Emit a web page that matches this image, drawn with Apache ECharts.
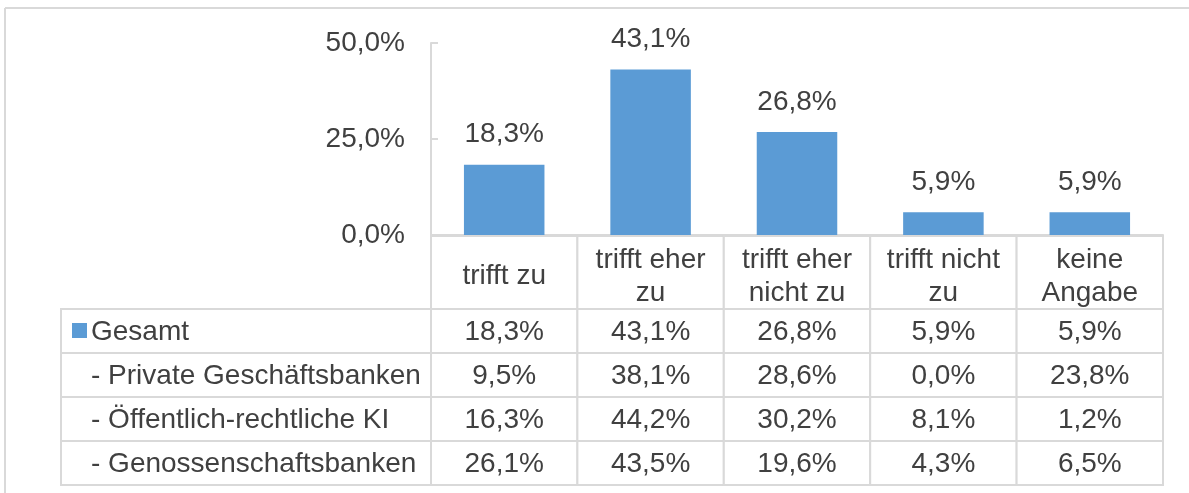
<!DOCTYPE html>
<html>
<head>
    <meta charset="utf-8">
    <title>Bewertung</title>
    <script type="text/javascript" src="https://cdn.jsdelivr.net/npm/echarts@6/dist/echarts.min.js"></script>
    <style>
        html, body { margin: 0; background: #fff; overflow: hidden; }
    </style>
</head>
<body>
<div id="chartmain" style="width:1189px; height:493px;"></div>

<script type="text/javascript">
    // Daten
    var categories = ['trifft zu', 'trifft eher zu', 'trifft eher nicht zu', 'trifft nicht zu', 'keine Angabe'];
    var headerLabels = ['trifft zu', 'trifft eher\nzu', 'trifft eher\nnicht zu', 'trifft nicht\nzu', 'keine\nAngabe'];
    var rowNames = ['Gesamt', '- Private Geschäftsbanken', '- Öffentlich-rechtliche KI', '- Genossenschaftsbanken'];
    var gesamt = [18.3, 43.1, 26.8, 5.9, 5.9];
    var privat = [9.5, 38.1, 28.6, 0.0, 23.8];
    var oeffentlich = [16.3, 44.2, 30.2, 8.1, 1.2];
    var genossen = [26.1, 43.5, 19.6, 4.3, 6.5];
    var yTicks = [0, 25, 50];

    var tableRows = [gesamt, privat, oeffentlich, genossen];
    var fontFam = '"Liberation Sans", Arial, sans-serif';
    var textCol = '#404040';
    var lineCol = '#d9d9d9';
    var barCol = '#5b9bd5';
    var fs = 28;

    function pct(v) {
        return v.toFixed(1).replace('.', ',') + '%';
    }

    // Zellen der Tabelle: [spalte, zeile, wert]
    var cellData = [];
    tableRows.forEach(function (row, r) {
        row.forEach(function (v, c) {
            cellData.push([c, r, v]);
        });
    });
    var rowLabelData = rowNames.map(function (n, r) { return [0, r]; });
    var headerData = headerLabels.map(function (h, c) { return [c, 0]; });

    var labelColW = 370;

    var option = {
        animation: false,
        graphic: [
            { type: 'line', shape: { x1: 5, y1: 8, x2: 1189, y2: 8 },
              style: { stroke: lineCol, lineWidth: 2 }, silent: true },
            { type: 'line', shape: { x1: 5, y1: 8, x2: 5, y2: 493 },
              style: { stroke: lineCol, lineWidth: 2 }, silent: true }
        ],
        grid: [
            { left: 431, top: 43, width: 732, height: 192 },
            { left: 431, top: 236, width: 732, height: 73 },
            { left: 431, top: 309, width: 732, height: 176 }
        ],
        xAxis: [
            {
                gridIndex: 0, type: 'category', data: categories,
                axisLine: { show: true, lineStyle: { color: lineCol, width: 2 } },
                axisTick: { show: false }, axisLabel: { show: false }
            },
            { gridIndex: 1, type: 'category', data: categories, show: false },
            { gridIndex: 2, type: 'category', data: categories, show: false }
        ],
        yAxis: [
            {
                gridIndex: 0, type: 'value', min: yTicks[0], max: yTicks[yTicks.length - 1], interval: 25,
                axisLine: { show: true, lineStyle: { color: lineCol, width: 2 } },
                axisTick: { show: true, inside: true, length: 7, lineStyle: { color: lineCol, width: 2 } },
                splitLine: { show: false },
                axisLabel: {
                    margin: 26, fontSize: fs, fontFamily: fontFam, color: textCol,
                    padding: [6, 0, 0, 0],
                    formatter: function (v) { return pct(v); }
                }
            },
            { gridIndex: 1, type: 'category', data: ['h'], show: false },
            { gridIndex: 2, type: 'category', data: rowNames, inverse: true, show: false }
        ],
        series: [
            {
                name: 'Gesamt',
                type: 'bar',
                xAxisIndex: 0, yAxisIndex: 0,
                data: gesamt,
                barWidth: '55%',
                itemStyle: { color: barCol },
                label: {
                    show: true, position: 'top', distance: 16,
                    fontSize: fs, fontFamily: fontFam, color: textCol,
                    formatter: function (p) { return pct(p.value); }
                }
            },
            {
                // Kopfzeile
                type: 'custom', xAxisIndex: 1, yAxisIndex: 1,
                data: headerData,
                renderItem: function (params, api) {
                    var c = api.value(0);
                    var p = api.coord([c, 0]);
                    var w = api.size([1, 0])[0];
                    var h = params.coordSys.height;
                    return {
                        type: 'group', children: [
                            { type: 'rect', shape: { x: p[0] - w / 2, y: params.coordSys.y, width: w, height: h },
                              style: { fill: '#fff', stroke: lineCol, lineWidth: 2 } },
                            { type: 'text', style: { text: headerLabels[c], x: p[0], y: params.coordSys.y + h / 2 + 4,
                              align: 'center', verticalAlign: 'middle', lineHeight: 33,
                              fill: textCol, fontSize: fs, fontFamily: fontFam } }
                        ]
                    };
                }
            },
            {
                // Werte
                type: 'custom', xAxisIndex: 2, yAxisIndex: 2,
                data: cellData,
                renderItem: function (params, api) {
                    var p = api.coord([api.value(0), api.value(1)]);
                    var w = api.size([1, 0])[0];
                    var h = Math.abs(api.size([0, 1])[1]);
                    return {
                        type: 'group', children: [
                            { type: 'rect', shape: { x: p[0] - w / 2, y: p[1] - h / 2, width: w, height: h },
                              style: { fill: '#fff', stroke: lineCol, lineWidth: 2 } },
                            { type: 'text', style: { text: pct(api.value(2)), x: p[0], y: p[1] + 1,
                              align: 'center', verticalAlign: 'middle',
                              fill: textCol, fontSize: fs, fontFamily: fontFam } }
                        ]
                    };
                }
            },
            {
                // Zeilenbeschriftung
                type: 'custom', xAxisIndex: 2, yAxisIndex: 2,
                data: rowLabelData,
                renderItem: function (params, api) {
                    var r = api.value(1);
                    var p = api.coord([0, r]);
                    var h = Math.abs(api.size([0, 1])[1]);
                    var x0 = params.coordSys.x - labelColW;
                    var kids = [
                        { type: 'rect', shape: { x: x0, y: p[1] - h / 2, width: labelColW, height: h },
                          style: { fill: '#fff', stroke: lineCol, lineWidth: 2 } },
                        { type: 'text', style: { text: rowNames[r], x: x0 + 30, y: p[1] + 1,
                          align: 'left', verticalAlign: 'middle',
                          fill: textCol, fontSize: fs, fontFamily: fontFam } }
                    ];
                    if (r === 0) {
                        kids.push({ type: 'rect', shape: { x: x0 + 11, y: p[1] - 8, width: 15, height: 15 },
                          style: { fill: barCol } });
                    }
                    return { type: 'group', children: kids };
                }
            }
        ]
    };

    var myChart = echarts.init(document.getElementById('chartmain'));
    myChart.setOption(option);
</script>
</body>
</html>
